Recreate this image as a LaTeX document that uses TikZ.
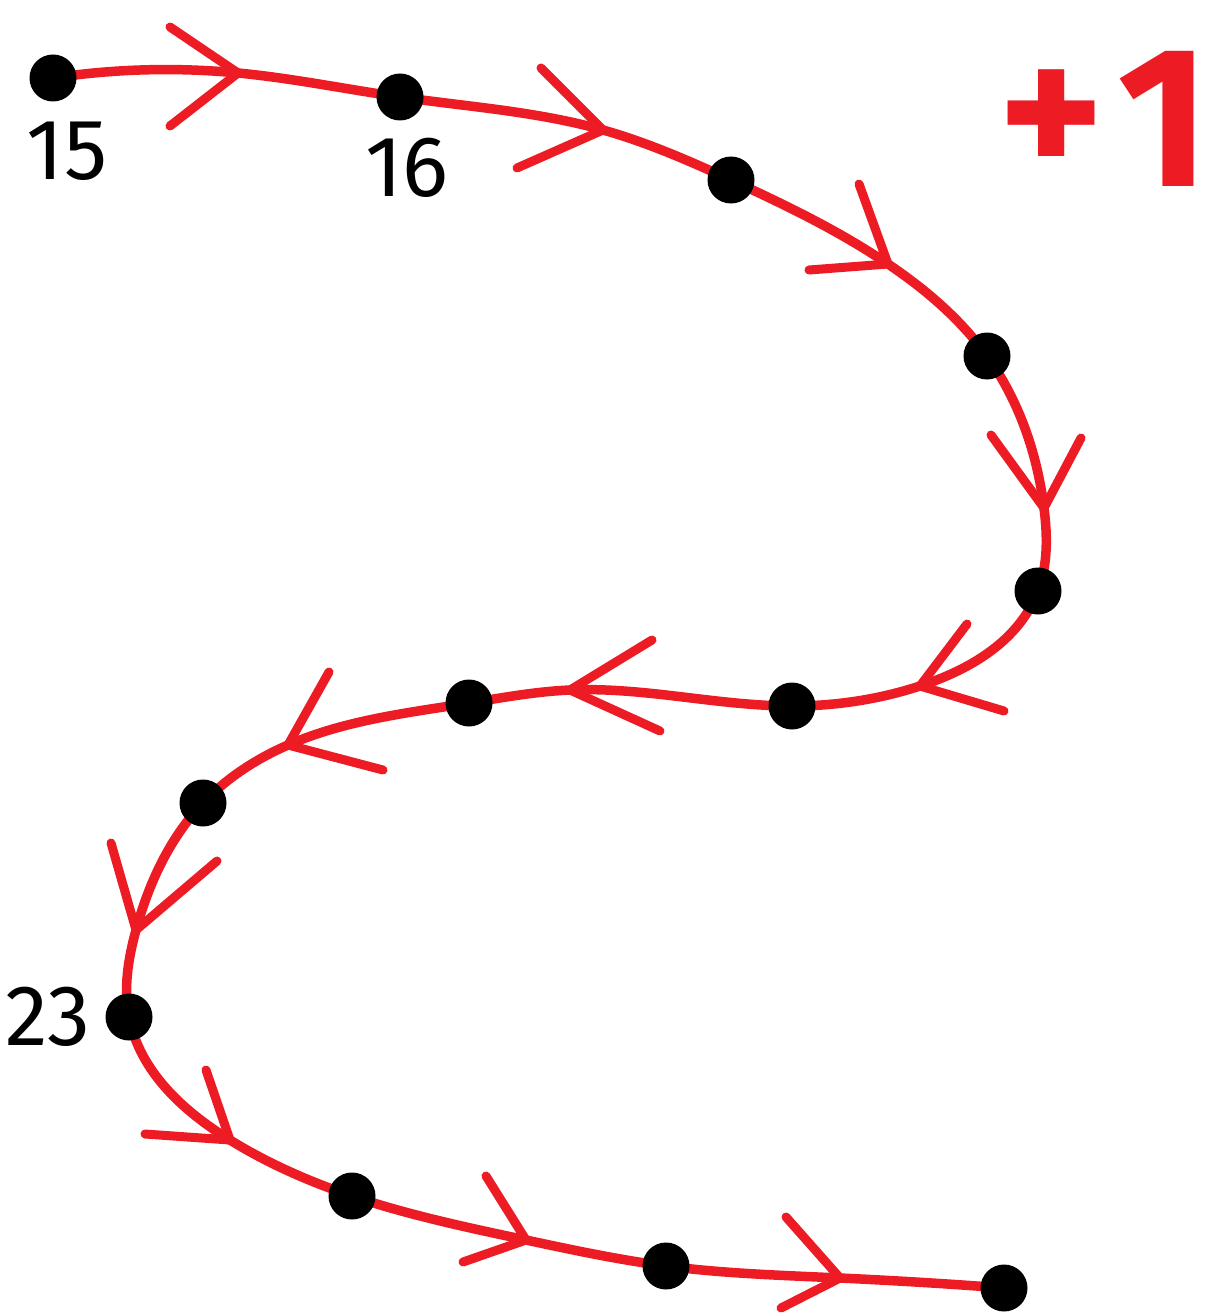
\documentclass[tikz,border=0pt]{standalone}
\usepackage{fontspec}
\setmainfont{Fira Sans}
\usetikzlibrary{hobby}
\definecolor{pathred}{RGB}{237,28,36}
\begin{document}
\begin{tikzpicture}[x=1pt,y=-1pt,
  trail/.style={draw=pathred,line width=9.5pt,line cap=round,line join=round},
  chev/.style={draw=pathred,line width=9pt,line cap=round,line join=round},
  dot/.style={circle,fill=black,minimum size=47pt,inner sep=0pt},
  numlabel/.style={inner sep=0pt,font=\fontsize{86}{86}\selectfont},
  bigmark/.style={inner sep=0pt,text=pathred,font=\fontsize{200}{200}\selectfont\bfseries}]
\useasboundingbox (0,0) rectangle (1214,1316);

% stations along the trail
\coordinate (p1) at (53,78);
\coordinate (p2) at (400,97);
\coordinate (p3) at (731,180);
\coordinate (p4) at (987,356);
\coordinate (p5) at (1038,591);
\coordinate (p6) at (792,706);
\coordinate (p7) at (469,703);
\coordinate (p8) at (203,803);
\coordinate (p9) at (129,1017);
\coordinate (p10) at (352,1196);
\coordinate (p11) at (666,1266);
\coordinate (p12) at (1004,1288);

% arrow tips on the trail
\coordinate (t1) at (238,73);
\coordinate (t2) at (603,130);
\coordinate (t3) at (888,264);
\coordinate (t4) at (1044,508);
\coordinate (t5) at (920,686);
\coordinate (t6) at (570,690);
\coordinate (t7) at (288,745);
\coordinate (t8) at (136,930);
\coordinate (t9) at (230,1140);
\coordinate (t10) at (526,1240);
\coordinate (t11) at (840,1278);

% the winding trail
\draw[trail,use Hobby shortcut] (p1) .. (t1) .. (p2) .. (t2) .. (p3) .. (t3) .. (p4) .. (t4) .. (p5) .. (t5) .. (p6) .. (t6) .. (p7) .. (t7) .. (p8) .. (t8) .. (p9) .. (t9) .. (p10) .. (t10) .. (p11) .. (t11) .. (p12);

% chevron arms
\coordinate (a1) at (170,27);   \coordinate (b1) at (170,126);
\coordinate (a2) at (541,68);   \coordinate (b2) at (517,168);
\coordinate (a3) at (859,184);  \coordinate (b3) at (809,270);
\coordinate (a4) at (991,435);  \coordinate (b4) at (1081,438);
\coordinate (a5) at (967,624);  \coordinate (b5) at (1004,711);
\coordinate (a6) at (652,640);  \coordinate (b6) at (660,731);
\coordinate (a7) at (329,672);  \coordinate (b7) at (383,770);
\coordinate (a8) at (111,843);  \coordinate (b8) at (217,861);
\coordinate (a9) at (206,1070); \coordinate (b9) at (145,1134);
\coordinate (a10) at (486,1176);\coordinate (b10) at (463,1262);
\coordinate (a11) at (786,1217);\coordinate (b11) at (781,1308);
\foreach \i in {1,...,11}{
  \draw[chev] (a\i) -- (t\i) -- (b\i);
}

% dots
\foreach \i in {1,...,12}{
  \node[dot] (d\i) at (p\i) {};
}

% labels
\node[numlabel] (l15) at (67,151) {15};
\node[numlabel] (l16) at (407,168) {16};
\node[numlabel] (l23) at (48,1017) {23};

% the +1 mark
\node[bigmark,anchor=base] (plus) at (1052,180) {+};
\node[bigmark,anchor=base east] (one) at (1210,186) {1};
\end{tikzpicture}
\end{document}
